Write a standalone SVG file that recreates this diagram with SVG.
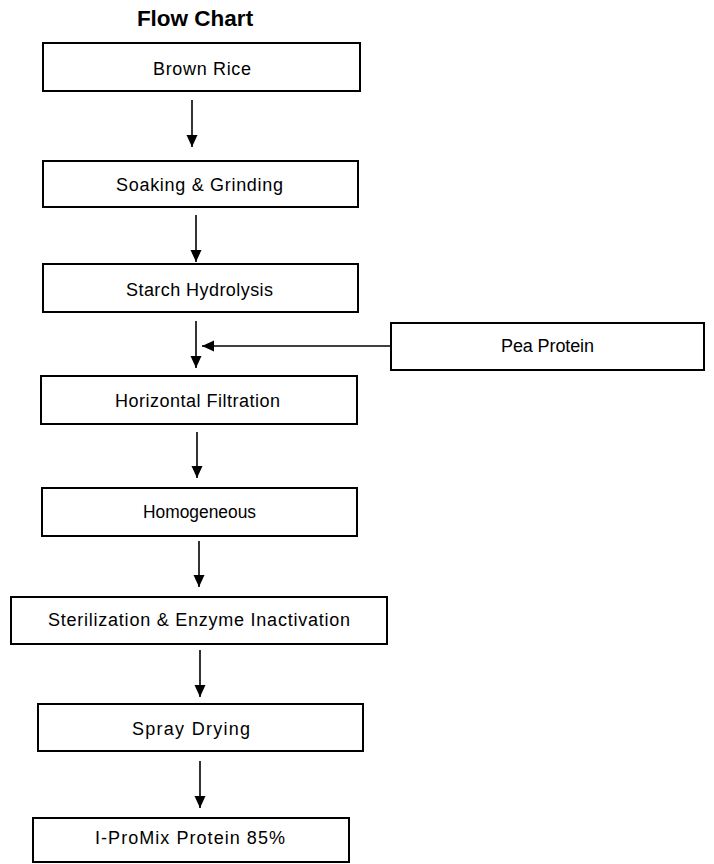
<svg xmlns="http://www.w3.org/2000/svg" width="714" height="864" viewBox="0 0 714 864">
<style>
  .box { fill: #ffffff; stroke: #000000; stroke-width: 2; }
  .lbl { font-family: "Liberation Sans", Arial, sans-serif; font-size: 18px; fill: #000000; text-anchor: middle; }
  .title { font-family: "Liberation Sans", Arial, sans-serif; font-size: 22.5px; font-weight: bold; fill: #000000; text-anchor: middle; }
  .conn { stroke: #000000; stroke-width: 1.6; fill: none; }
</style>
<defs>
  <marker id="arrow" viewBox="0 0 12 12" markerWidth="12" markerHeight="12" refX="12" refY="6" orient="auto" markerUnits="userSpaceOnUse">
    <path d="M0,0.5 L12,6 L0,11.5 Z" fill="#000000"/>
  </marker>
</defs>
<rect width="714" height="864" fill="#ffffff"/>
<text class="title" x="195" y="26">Flow Chart</text>

<g id="brown-rice">
  <rect class="box" x="43" y="43" width="317" height="48"/>
  <text class="lbl" x="202" y="75" textLength="98" lengthAdjust="spacing">Brown Rice</text>
</g>
<g id="soaking-grinding">
  <rect class="box" x="43" y="161" width="315" height="46"/>
  <text class="lbl" x="199.5" y="191" textLength="167" lengthAdjust="spacing">Soaking &amp; Grinding</text>
</g>
<g id="starch-hydrolysis">
  <rect class="box" x="43" y="264" width="315" height="48"/>
  <text class="lbl" x="199.5" y="296" textLength="147" lengthAdjust="spacing">Starch Hydrolysis</text>
</g>
<g id="pea-protein">
  <rect class="box" x="391" y="323" width="313" height="47"/>
  <text class="lbl" x="547.5" y="352" textLength="93" lengthAdjust="spacing">Pea Protein</text>
</g>
<g id="horizontal-filtration">
  <rect class="box" x="41" y="376" width="316" height="48"/>
  <text class="lbl" x="197.5" y="407" textLength="165" lengthAdjust="spacing">Horizontal Filtration</text>
</g>
<g id="homogeneous">
  <rect class="box" x="42" y="488" width="315" height="48"/>
  <text class="lbl" x="199.5" y="518" textLength="113" lengthAdjust="spacingAndGlyphs">Homogeneous</text>
</g>
<g id="sterilization">
  <rect class="box" x="11" y="597" width="376" height="47"/>
  <text class="lbl" x="199" y="626" textLength="302" lengthAdjust="spacing">Sterilization &amp; Enzyme Inactivation</text>
</g>
<g id="spray-drying">
  <rect class="box" x="38" y="704" width="325" height="47"/>
  <text class="lbl" x="191" y="735" textLength="118" lengthAdjust="spacing">Spray Drying</text>
</g>
<g id="final-product">
  <rect class="box" x="33" y="818" width="316" height="44"/>
  <text class="lbl" x="190" y="844" textLength="190" lengthAdjust="spacing">I-ProMix Protein 85%</text>
</g>

<g id="connectors">
  <line class="conn" x1="192" y1="100" x2="192" y2="147" marker-end="url(#arrow)"/>
  <line class="conn" x1="196" y1="215" x2="196" y2="262" marker-end="url(#arrow)"/>
  <line class="conn" x1="196" y1="321" x2="196" y2="368" marker-end="url(#arrow)"/>
  <line class="conn" x1="391" y1="346" x2="202" y2="346" marker-end="url(#arrow)"/>
  <line class="conn" x1="197" y1="432" x2="197" y2="478" marker-end="url(#arrow)"/>
  <line class="conn" x1="199" y1="541" x2="199" y2="587" marker-end="url(#arrow)"/>
  <line class="conn" x1="200" y1="650" x2="200" y2="697" marker-end="url(#arrow)"/>
  <line class="conn" x1="200" y1="761" x2="200" y2="808" marker-end="url(#arrow)"/>
</g>
</svg>
